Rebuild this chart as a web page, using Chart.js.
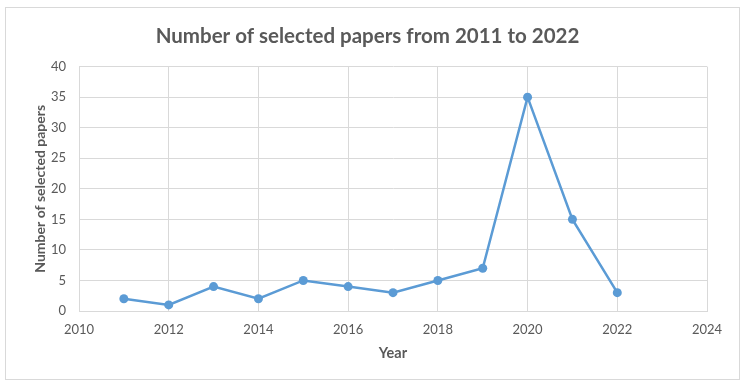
<!DOCTYPE html>
<html>
<head>
<meta charset="utf-8">
<script src="https://cdn.jsdelivr.net/npm/chart.js@4/dist/chart.umd.min.js"></script>
<style>
html,body{margin:0;padding:0;background:#fff;}
#wrap{position:relative;width:747px;height:389px;}
#frame{position:absolute;left:5px;top:7px;width:733px;height:371px;border:1px solid #d9d9d9;pointer-events:none;}
canvas{position:absolute;left:0;top:0;}
</style>
</head>
<body>
<div id="wrap">
<canvas id="c" width="747" height="389"></canvas>
<div id="frame"></div>
</div>
<script>
const years = [2011, 2012, 2013, 2014, 2015, 2016, 2017, 2018, 2019, 2020, 2021, 2022];
const papers = [2, 1, 4, 2, 5, 4, 3, 5, 7, 35, 15, 3];
const xTicks = [2010, 2012, 2014, 2016, 2018, 2020, 2022, 2024];
const yTicks = [0, 5, 10, 15, 20, 25, 30, 35, 40];

const fontFamily = "Lato, 'Open Sans', sans-serif";
const grey = '#595959';
const grid = '#d9d9d9';
const blue = '#5b9bd5';

new Chart(document.getElementById('c'), {
  type: 'scatter',
  data: {
    datasets: [{
      data: years.map((y, i) => ({x: y, y: papers[i]})),
      showLine: true,
      borderColor: blue,
      backgroundColor: blue,
      borderWidth: 2.5,
      pointRadius: 4.5,
      pointBorderWidth: 0,
      tension: 0
    }]
  },
  options: {
    responsive: false,
    animation: false,
    layout: {padding: {left: 28, right: 40, top: 0, bottom: 20}},
    plugins: {
      legend: {display: false},
      tooltip: {enabled: false},
      title: {
        display: true,
        text: 'Number of selected papers from 2011 to 2022',
        color: grey,
        font: {family: fontFamily, size: 20.5, weight: 'bold'},
        padding: {top: 24, bottom: 18}
      }
    },
    scales: {
      x: {
        type: 'linear',
        min: xTicks[0],
        max: xTicks[xTicks.length - 1],
        afterBuildTicks: s => { s.ticks = xTicks.map(v => ({value: v})); },
        ticks: {color: grey, font: {family: fontFamily, size: 13}, padding: 11, callback: v => String(v)},
        grid: {color: grid, lineWidth: 1, drawTicks: false},
        border: {color: grid},
        title: {display: true, text: 'Year', color: grey, font: {family: fontFamily, size: 14.5, weight: 'bold'}, padding: {top: 4, bottom: 7}},
        afterFit: s => { s.height = 58; }
      },
      y: {
        min: 0,
        max: 40,
        afterBuildTicks: s => { s.ticks = yTicks.map(v => ({value: v})); },
        ticks: {color: grey, font: {family: fontFamily, size: 13}, padding: 13},
        grid: {color: grid, lineWidth: 1, drawTicks: false},
        border: {color: grid},
        title: {display: true, text: 'Number of selected papers', color: grey, font: {family: fontFamily, size: 14, weight: 'bold'}, padding: {bottom: 4}},
        afterFit: s => { s.width = 51; }
      }
    }
  }
});
</script>
</body>
</html>
